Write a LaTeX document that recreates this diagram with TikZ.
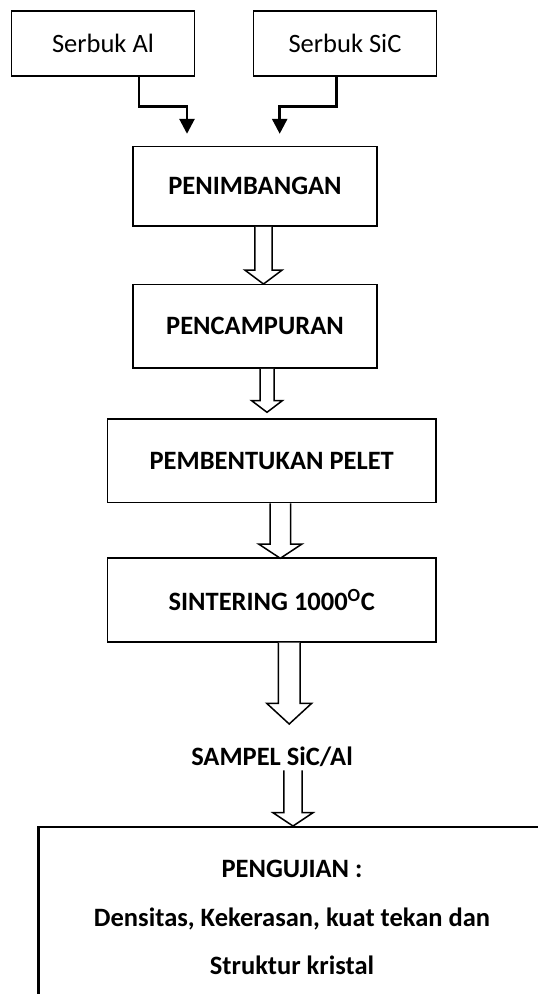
\documentclass[tikz,border=0pt]{standalone}
\usepackage{fontspec}
\setmainfont{Carlito}
\usetikzlibrary{arrows.meta,calc}

\tikzstyle{source} = [rectangle,draw,line width=1.7pt,minimum width=183pt,minimum height=65pt]
\tikzstyle{process} = [rectangle,draw,line width=1.7pt,minimum height=83.5pt,font=\fontsize{26.5}{48.5}\selectfont\bfseries]
\tikzstyle{panel} = [rectangle,draw,line width=2.2pt,minimum width=540pt,minimum height=200pt]
\tikzstyle{feed} = [line width=2.7pt,-{Triangle[width=15pt,length=15pt]}]
\tikzstyle{hollow} = [draw,line width=1.5pt,line join=miter,fill=white]
\tikzstyle{every node}=[font=\fontsize{26.5}{48.5}\selectfont]

\newcommand{\blockarrow}[5]{\draw[hollow] ($(#1)+(-#3,0)$) -- ($(#2)+(-#3,-#5)$) -- ($(#2)+(-#4,-#5)$) -- (#2) -- ($(#2)+(#4,-#5)$) -- ($(#2)+(#3,-#5)$) -- ($(#1)+(#3,0)$);}

\begin{document}
\begin{tikzpicture}[x=1pt,y=-1pt]
	\useasboundingbox (0,0) rectangle (538,994);
	\node[source] (al) at (103,43.5) {Serbuk Al};
	\node[source] (sic) at (345,43.5) {Serbuk SiC};
	\node[process,minimum width=244pt,minimum height=79.5pt] (timbang) at (255,186.2) {PENIMBANGAN};
	\node[process,minimum width=244pt] (campur) at (255,326.2) {PENCAMPURAN};
	\node[process,minimum width=328.7pt] (pelet) at (271.7,460.8) {PEMBENTUKAN PELET};
	\node[process,minimum width=328.7pt] (sinter) at (271.7,600) {SINTERING 1000\textsuperscript{O}C};
	\node[font=\fontsize{26.5}{48.5}\selectfont\bfseries] (sampel) at (272,757) {SAMPEL SiC/Al};
	\begin{scope}
		\clip (0,0) rectangle (538,994);
		\node[panel,anchor=north west] (uji) at (37.3,826) {};
	\end{scope}
	\node[align=center,font=\fontsize{26.5}{48.5}\selectfont\bfseries] (ujiteks) at (292,917.5) {PENGUJIAN :\\Densitas, Kekerasan, kuat tekan dan\\Struktur kristal};
	\coordinate (inal) at (187,133.8);
	\coordinate (insic) at (279.7,133.8);
	\draw[feed] ($(al.south)+(36,0)$) -- ++(0,29.7) -| (inal);
	\draw[feed] ($(sic.south)+(-8.7,0)$) -- ++(0,29.7) -| (insic);
	\coordinate (a1) at (263.5,284);
	\coordinate (a2) at (267,412.3);
	\coordinate (a3) at (280.3,558.3);
	\coordinate (a4) at (289.2,724);
	\coordinate (a5) at (293,826);
	\blockarrow{timbang.south -| a1}{a1}{8.7}{18.7}{14}
	\blockarrow{campur.south -| a2}{a2}{7}{15.3}{11.6}
	\blockarrow{pelet.south -| a3}{a3}{10.3}{21.7}{14.3}
	\blockarrow{sinter.south -| a4}{a4}{10.8}{22.5}{20.7}
	\blockarrow{sampel.south -| a5}{a5}{9.2}{20}{13.3}
\end{tikzpicture}
\end{document}
